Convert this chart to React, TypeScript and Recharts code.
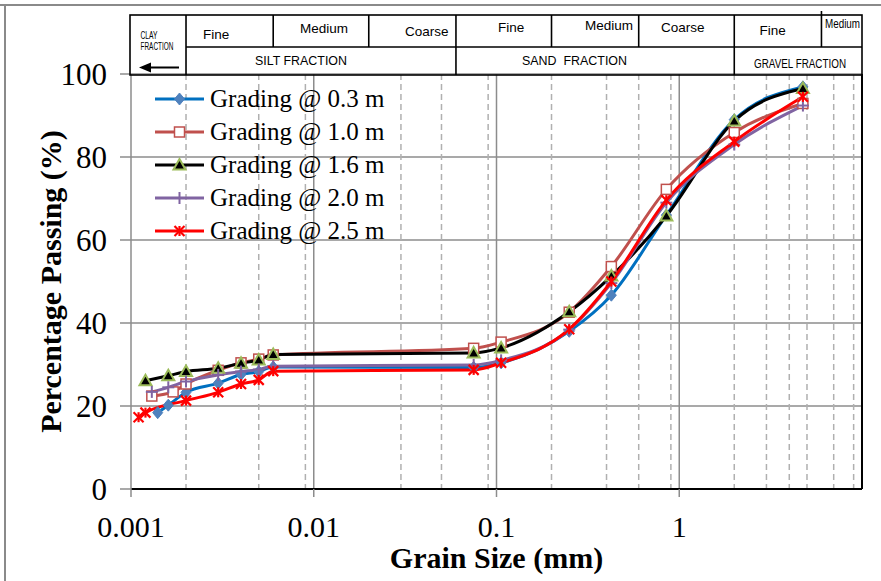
import React from 'react';
import {
  LineChart,
  Line,
  XAxis,
  YAxis,
  CartesianGrid,
  ReferenceLine,
  Legend,
  Label,
} from 'recharts';

// grain size (mm) / percentage passing
const size03 = [0.0014, 0.0016, 0.002, 0.003, 0.004, 0.005, 0.006, 0.075, 0.106, 0.25, 0.425, 0.85, 2.0, 4.75];
const pass03 = [18.4, 20.2, 23.3, 25.5, 27.6, 28.3, 29.4, 29.3, 30.4, 38.0, 46.7, 66.0, 89.0, 96.9];

const size10 = [0.0013, 0.0017, 0.002, 0.003, 0.004, 0.005, 0.006, 0.075, 0.106, 0.25, 0.425, 0.85, 2.0, 4.75];
const pass10 = [22.4, 23.4, 25.3, 28.6, 30.4, 31.3, 32.3, 33.9, 35.4, 42.6, 53.6, 72.2, 85.9, 92.9];

const size16 = [0.0012, 0.0016, 0.002, 0.003, 0.004, 0.005, 0.006, 0.075, 0.106, 0.25, 0.425, 0.85, 2.0, 4.75];
const pass16 = [26.1, 27.3, 28.3, 29.1, 30.3, 31.1, 32.4, 32.8, 34.0, 42.7, 51.3, 65.8, 88.7, 96.5];

const size20 = [0.0013, 0.0016, 0.002, 0.003, 0.004, 0.005, 0.006, 0.075, 0.106, 0.25, 0.425, 0.85, 2.0, 4.75];
const pass20 = [23.4, 24.5, 25.9, 27.5, 28.3, 28.8, 29.6, 29.9, 31.0, 38.4, 49.6, 69.0, 83.0, 92.4];

const size25 = [0.0011, 0.0012, 0.002, 0.003, 0.004, 0.005, 0.006, 0.075, 0.106, 0.25, 0.425, 0.85, 2.0, 4.75];
const pass25 = [17.3, 18.4, 21.3, 23.3, 25.3, 26.3, 28.4, 28.7, 30.4, 38.5, 50.0, 69.6, 83.7, 94.5];

const xTicks = [0.001, 0.01, 0.1, 1];
const yTicks = [0, 20, 40, 60, 80, 100];
const majorGrid = [0.01, 0.1, 1];
const minorGrid = [0.001, 0.01, 0.1, 1].flatMap((d) => [2, 3, 4, 5, 6, 7, 8, 9].map((m) => +(d * m).toPrecision(3)));

// soil classification boundaries for the header table (mm)
const fullBounds = [0.002, 0.06, 2];
const subBounds = [0.006, 0.02, 0.2, 0.6, 6];

type Kind = 'diamond' | 'square' | 'triangle' | 'plus' | 'cross';

const zip = (xs: number[], ys: number[]) => xs.map((x, i) => ({ x, y: ys[i] }));

const series = [
  { name: 'Grading @ 0.3 m', data: zip(size03, pass03), color: '#0070C0', kind: 'diamond' as Kind },
  { name: 'Grading @ 1.0 m', data: zip(size10, pass10), color: '#C0504D', kind: 'square' as Kind },
  { name: 'Grading @ 1.6 m', data: zip(size16, pass16), color: '#000000', kind: 'triangle' as Kind },
  { name: 'Grading @ 2.0 m', data: zip(size20, pass20), color: '#8064A2', kind: 'plus' as Kind },
  { name: 'Grading @ 2.5 m', data: zip(size25, pass25), color: '#FF0000', kind: 'cross' as Kind },
];

const LEFT = 131;
const RIGHT = 862;
const TOP = 74;
const BOTTOM = 489;
const gx = (v: number) => LEFT + ((RIGHT - LEFT) / 4) * Math.log10(v / 0.001);

function Marker({ kind, cx, cy }: { kind: Kind; cx: number; cy: number }) {
  if (kind === 'diamond')
    return <path d={`M${cx},${cy - 6}L${cx + 5},${cy}L${cx},${cy + 6}L${cx - 5},${cy}Z`} fill="#4F81BD" stroke="#4F81BD" />;
  if (kind === 'square')
    return <rect x={cx - 5} y={cy - 5} width={10} height={10} fill="#fff" stroke="#C0504D" strokeWidth={1.5} />;
  if (kind === 'triangle')
    return <path d={`M${cx},${cy - 6}L${cx + 6},${cy + 4.5}L${cx - 6},${cy + 4.5}Z`} fill="#000" stroke="#9BBB59" strokeWidth={2} />;
  if (kind === 'plus')
    return (
      <g stroke="#8064A2" strokeWidth={2}>
        <line x1={cx} y1={cy - 6} x2={cx} y2={cy + 6} />
        <line x1={cx - 6} y1={cy} x2={cx + 6} y2={cy} />
      </g>
    );
  return (
    <g stroke="#FF0000" strokeWidth={2.2}>
      <line x1={cx - 5} y1={cy - 5} x2={cx + 5} y2={cy + 5} />
      <line x1={cx + 5} y1={cy - 5} x2={cx - 5} y2={cy + 5} />
      <line x1={cx} y1={cy - 5} x2={cx} y2={cy + 5} />
    </g>
  );
}

function LegendBox({ payload }: any) {
  return (
    <div style={{ fontFamily: 'Liberation Serif', fontSize: 25, color: '#000' }}>
      {(payload || []).map((p: any) => {
        const s = series.find((d) => d.name === p.value)!;
        return (
          <div key={p.value} style={{ display: 'flex', alignItems: 'center', height: 33 }}>
            <svg width={58} height={20}>
              <line x1={5} y1={10} x2={54} y2={10} stroke={s.color} strokeWidth={3} />
              <Marker kind={s.kind} cx={29.5} cy={10} />
            </svg>
            <span style={{ marginLeft: 2, whiteSpace: 'nowrap' }}>{p.value}</span>
          </div>
        );
      })}
    </div>
  );
}

function HeaderTable() {
  const sans = 'Liberation Sans';
  return (
    <svg width={881} height={581} style={{ position: 'absolute', left: 0, top: 0, pointerEvents: 'none' }}>
      <line x1={0} y1={5} x2={881} y2={5} stroke="#8a8a8a" strokeWidth={2} />
      <line x1={5} y1={5} x2={5} y2={581} stroke="#8a8a8a" strokeWidth={2} />
      <g stroke="#000" strokeWidth={1.6} fill="none">
        <rect x={130} y={15} width={RIGHT - 130} height={TOP + 1 - 15} />
        <line x1={gx(0.002)} y1={47} x2={RIGHT} y2={47} />
        {fullBounds.map((b) => (
          <line key={b} x1={gx(b)} y1={15} x2={gx(b)} y2={TOP + 1} />
        ))}
        {subBounds.map((b) => (
          <line key={b} x1={gx(b)} y1={15} x2={gx(b)} y2={47} />
        ))}
        <line x1={gx(6)} y1={11} x2={gx(6)} y2={15} />
        <line x1={144} y1={67.5} x2={179} y2={67.5} strokeWidth={2} />
      </g>
      <path d="M139,67.5 L151,62.5 L151,72.5 Z" fill="#000" />
      <g fontFamily={sans} fill="#000">
        <text x={140.5} y={38.5} fontSize={10} textLength={17} lengthAdjust="spacingAndGlyphs">CLAY</text>
        <text x={140.5} y={50} fontSize={10} textLength={33} lengthAdjust="spacingAndGlyphs">FRACTION</text>
        <text x={203} y={39} fontSize={13.5}>Fine</text>
        <text x={300} y={33} fontSize={13.5}>Medium</text>
        <text x={405} y={36} fontSize={13.5}>Coarse</text>
        <text x={498} y={31.5} fontSize={13.5}>Fine</text>
        <text x={585} y={29.5} fontSize={13.5}>Medium</text>
        <text x={661} y={31.5} fontSize={13.5}>Coarse</text>
        <text x={759.5} y={34.5} fontSize={13.5}>Fine</text>
        <text x={825} y={28} fontSize={12.5} textLength={35} lengthAdjust="spacingAndGlyphs">Medium</text>
        <text x={255} y={65} fontSize={12.5} textLength={92} lengthAdjust="spacingAndGlyphs">SILT FRACTION</text>
        <text x={522} y={65} fontSize={12.5} textLength={105} lengthAdjust="spacingAndGlyphs" xmlSpace="preserve">SAND  FRACTION</text>
        <text x={754} y={67.5} fontSize={12.5} textLength={92} lengthAdjust="spacingAndGlyphs">GRAVEL FRACTION</text>
      </g>
    </svg>
  );
}

export default function App() {
  const serif = 'Liberation Serif';
  return (
    <div style={{ position: 'absolute', left: 0, top: 0, width: 881, height: 581, background: '#fff' }}>
      <LineChart width={881} height={581} margin={{ top: TOP, right: 881 - RIGHT, bottom: 0, left: 0 }}>
        <CartesianGrid vertical={false} stroke="#8c8c8c" strokeWidth={1.5} />
        <CartesianGrid horizontal={false} verticalValues={minorGrid} stroke="#b0b0b0" strokeDasharray="6 4" strokeWidth={1.5} />
        <CartesianGrid horizontal={false} verticalValues={majorGrid} stroke="#8c8c8c" strokeWidth={1.5} />
        <XAxis
          type="number"
          dataKey="x"
          scale="log"
          domain={[0.001, 10]}
          ticks={xTicks}
          tickFormatter={(v) => String(v)}
          height={581 - BOTTOM}
          tickSize={8}
          tickMargin={19}
          axisLine={{ stroke: '#000', strokeWidth: 2 }}
          tickLine={{ stroke: '#8c8c8c', strokeWidth: 1.5 }}
          tick={{ fontSize: 30, fill: '#000', fontFamily: serif }}
          allowDataOverflow
        >
          <Label
            value="Grain Size (mm)"
            position="insideBottom"
            offset={13}
            style={{ fontSize: 30, fontWeight: 'bold', fill: '#000', fontFamily: serif }}
          />
        </XAxis>
        <YAxis
          type="number"
          domain={[0, 100]}
          ticks={yTicks}
          width={LEFT}
          tickSize={11}
          tickMargin={13}
          axisLine={{ stroke: '#8c8c8c', strokeWidth: 1.5 }}
          tickLine={{ stroke: '#8c8c8c', strokeWidth: 1.5 }}
          tick={{ fontSize: 31, fill: '#000', fontFamily: serif }}
        >
          <Label
            content={({ viewBox }: any) => (
              <text
                x={61}
                y={viewBox.y + viewBox.height / 2}
                transform={`rotate(-90 61 ${viewBox.y + viewBox.height / 2})`}
                textAnchor="middle"
                fontSize={30}
                fontWeight="bold"
                fontFamily={serif}
                fill="#000"
              >
                Percentage Passing (%)
              </text>
            )}
          />
        </YAxis>
        <ReferenceLine x={10} stroke="#000" strokeWidth={2} />
        {series.map((s) => (
          <Line
            key={s.name}
            name={s.name}
            data={s.data}
            dataKey="y"
            type="monotone"
            stroke={s.color}
            strokeWidth={3}
            isAnimationActive={false}
            dot={(p: any) => <Marker key={`${s.name}-${p.index}`} kind={s.kind} cx={p.cx} cy={p.cy} />}
            activeDot={false}
          />
        ))}
        <Legend
          layout="vertical"
          align="center"
          verticalAlign="middle"
          content={<LegendBox />}
          wrapperStyle={{ left: 150, top: 82, width: 250 }}
        />
      </LineChart>
      <HeaderTable />
    </div>
  );
}
